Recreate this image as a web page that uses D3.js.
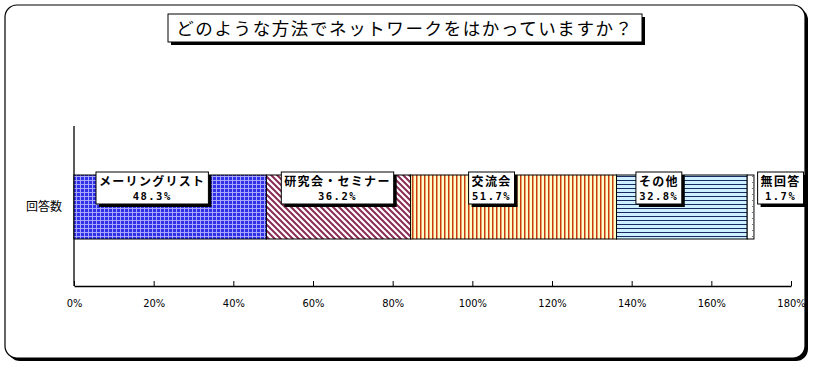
<!DOCTYPE html>
<html><head><meta charset="utf-8">
<script src="https://cdn.jsdelivr.net/npm/d3@7"></script>
<style>
html,body{margin:0;padding:0;background:#fff;}
svg{display:block;}
</style></head>
<body>
<svg id="chart" width="813" height="368"></svg>
<script>
// ---- data ----
const title = "どのような方法でネットワークをはかっていますか？";
const rowLabel = "回答数";
const categories = ["メーリングリスト", "研究会・セミナー", "交流会", "その他", "無回答"];
const values = [48.3, 36.2, 51.7, 32.8, 1.7];
const tickValues = [0, 20, 40, 60, 80, 100, 120, 140, 160, 180];

// ---- layout ----
const labelDx = [-18, -1, -22, -23, 30];
const svg = d3.select("#chart");
const defs = svg.append("defs");

// patterns
function pat(id, w, h) {
  return defs.append("pattern").attr("id", id).attr("patternUnits", "userSpaceOnUse")
    .attr("width", w).attr("height", h);
}
let p = pat("p0", 4, 4);
p.append("rect").attr("width", 4).attr("height", 4).attr("fill", "#a8a8ff");
p.append("rect").attr("x", 1).attr("y", 1).attr("width", 3).attr("height", 3).attr("fill", "#3030e8");
p = pat("p1", 6, 6);
p.append("rect").attr("width", 6).attr("height", 6).attr("fill", "#fff");
p.append("path").attr("d", "M-1,-1L7,7M-1,5L1,7M5,-1L7,1").attr("stroke", "#8a2c55").attr("stroke-width", 2);
p = pat("p2", 4, 4);
p.append("rect").attr("width", 4).attr("height", 4).attr("fill", "#ffffc8");
p.append("rect").attr("x", 0).attr("width", 1.5).attr("height", 4).attr("fill", "#cc3a10");
p = pat("p3", 4, 4);
p.append("rect").attr("width", 4).attr("height", 4).attr("fill", "#ccf0ff");
p.append("rect").attr("y", 0).attr("width", 4).attr("height", 1).attr("fill", "#1a2a60");
p = pat("p4", 6, 6);
p.append("rect").attr("width", 6).attr("height", 6).attr("fill", "#fff");
p.append("rect").attr("x", 2).attr("y", 2).attr("width", 1).attr("height", 1).attr("fill", "#777");

// outer frame with shadow
svg.append("rect").attr("x", 8).attr("y", 8).attr("width", 800).attr("height", 353).attr("rx", 12).attr("fill", "#000");
svg.append("rect").attr("x", 5).attr("y", 5).attr("width", 800).attr("height", 353).attr("rx", 12)
  .attr("fill", "#fff").attr("stroke", "#000").attr("stroke-width", 1.2);

// title
const tg = svg.append("g");
tg.append("rect").attr("x", 171).attr("y", 17).attr("width", 474).attr("height", 28).attr("fill", "#000");
tg.append("rect").attr("x", 168).attr("y", 14).attr("width", 474).attr("height", 28).attr("fill", "#fff").attr("stroke", "#000");
tg.append("text").attr("x", 405).attr("y", 35).attr("text-anchor", "middle")
  .attr("font-family", "'Noto Sans CJK JP'").attr("font-size", 17.5).attr("letter-spacing", 1.6)
  .text(title);

// scales
const x = d3.scaleLinear().domain([0, 180]).range([74, 791]);
const barTop = 175, barBot = 239;

// axes
const xAxis = d3.axisBottom(x).tickValues(tickValues).tickSize(0).tickFormat(d => d + "%");
const gx = svg.append("g").attr("transform", "translate(0,286)").call(xAxis);
gx.select(".domain").attr("stroke", "#000").attr("stroke-width", 1.3);
gx.selectAll(".tick line").remove();
gx.selectAll(".tick").append("line").attr("y1", 0).attr("y2", -5).attr("stroke", "#000");
gx.selectAll(".tick text").attr("y", 21).attr("dy", 0)
  .attr("font-family", "'DejaVu Sans Condensed', 'DejaVu Sans'").attr("font-size", 11)
  .attr("fill", "#000");
svg.append("line").attr("x1", 74).attr("x2", 74).attr("y1", 126).attr("y2", 286).attr("stroke", "#000").attr("stroke-width", 1.3);

svg.append("text").attr("x", 44).attr("y", 211).attr("text-anchor", "middle")
  .attr("font-family", "'Noto Sans CJK JP'").attr("font-size", 12).text(rowLabel);

// stacked bar
let cum = 0;
const segs = values.map((v, i) => { const s = { i, v, c: categories[i], x0: cum, x1: cum + v }; cum += v; return s; });
svg.append("g").selectAll("rect").data(segs).join("rect")
  .attr("x", d => x(d.x0)).attr("width", d => x(d.x1) - x(d.x0))
  .attr("y", barTop).attr("height", barBot - barTop)
  .attr("fill", d => `url(#p${d.i})`).attr("stroke", "#000").attr("stroke-width", 1);

// labels
const lg = svg.append("g").selectAll("g").data(segs).join("g")
  .attr("transform", d => `translate(${(x(d.x0) + x(d.x1)) / 2 + labelDx[d.i]},0)`);
lg.each(function (d) {
  const g = d3.select(this);
  const t1 = g.append("text").attr("x", 0).attr("y", 186).attr("text-anchor", "middle")
    .attr("font-family", "'Noto Sans CJK JP'").attr("font-weight", 700).attr("font-size", 12)
    .attr("letter-spacing", 1.3).text(d.c);
  const t2 = g.append("text").attr("x", 0).attr("y", 200).attr("text-anchor", "middle")
    .attr("font-family", "'DejaVu Sans Mono'").attr("font-weight", 700).attr("font-size", 10.5)
    .attr("letter-spacing", 1.5).text(d.v.toFixed(1) + "%");
  const w = Math.max(t1.node().getComputedTextLength(), t2.node().getComputedTextLength()) + 6;
  g.insert("rect", "text").attr("x", -w / 2).attr("y", 172).attr("width", w).attr("height", 32).attr("fill", "#fff").attr("stroke", "#000");
  g.insert("rect", "rect").attr("x", -w / 2 + 3).attr("y", 175).attr("width", w).attr("height", 32).attr("fill", "#000");
});
</script>
</body></html>
